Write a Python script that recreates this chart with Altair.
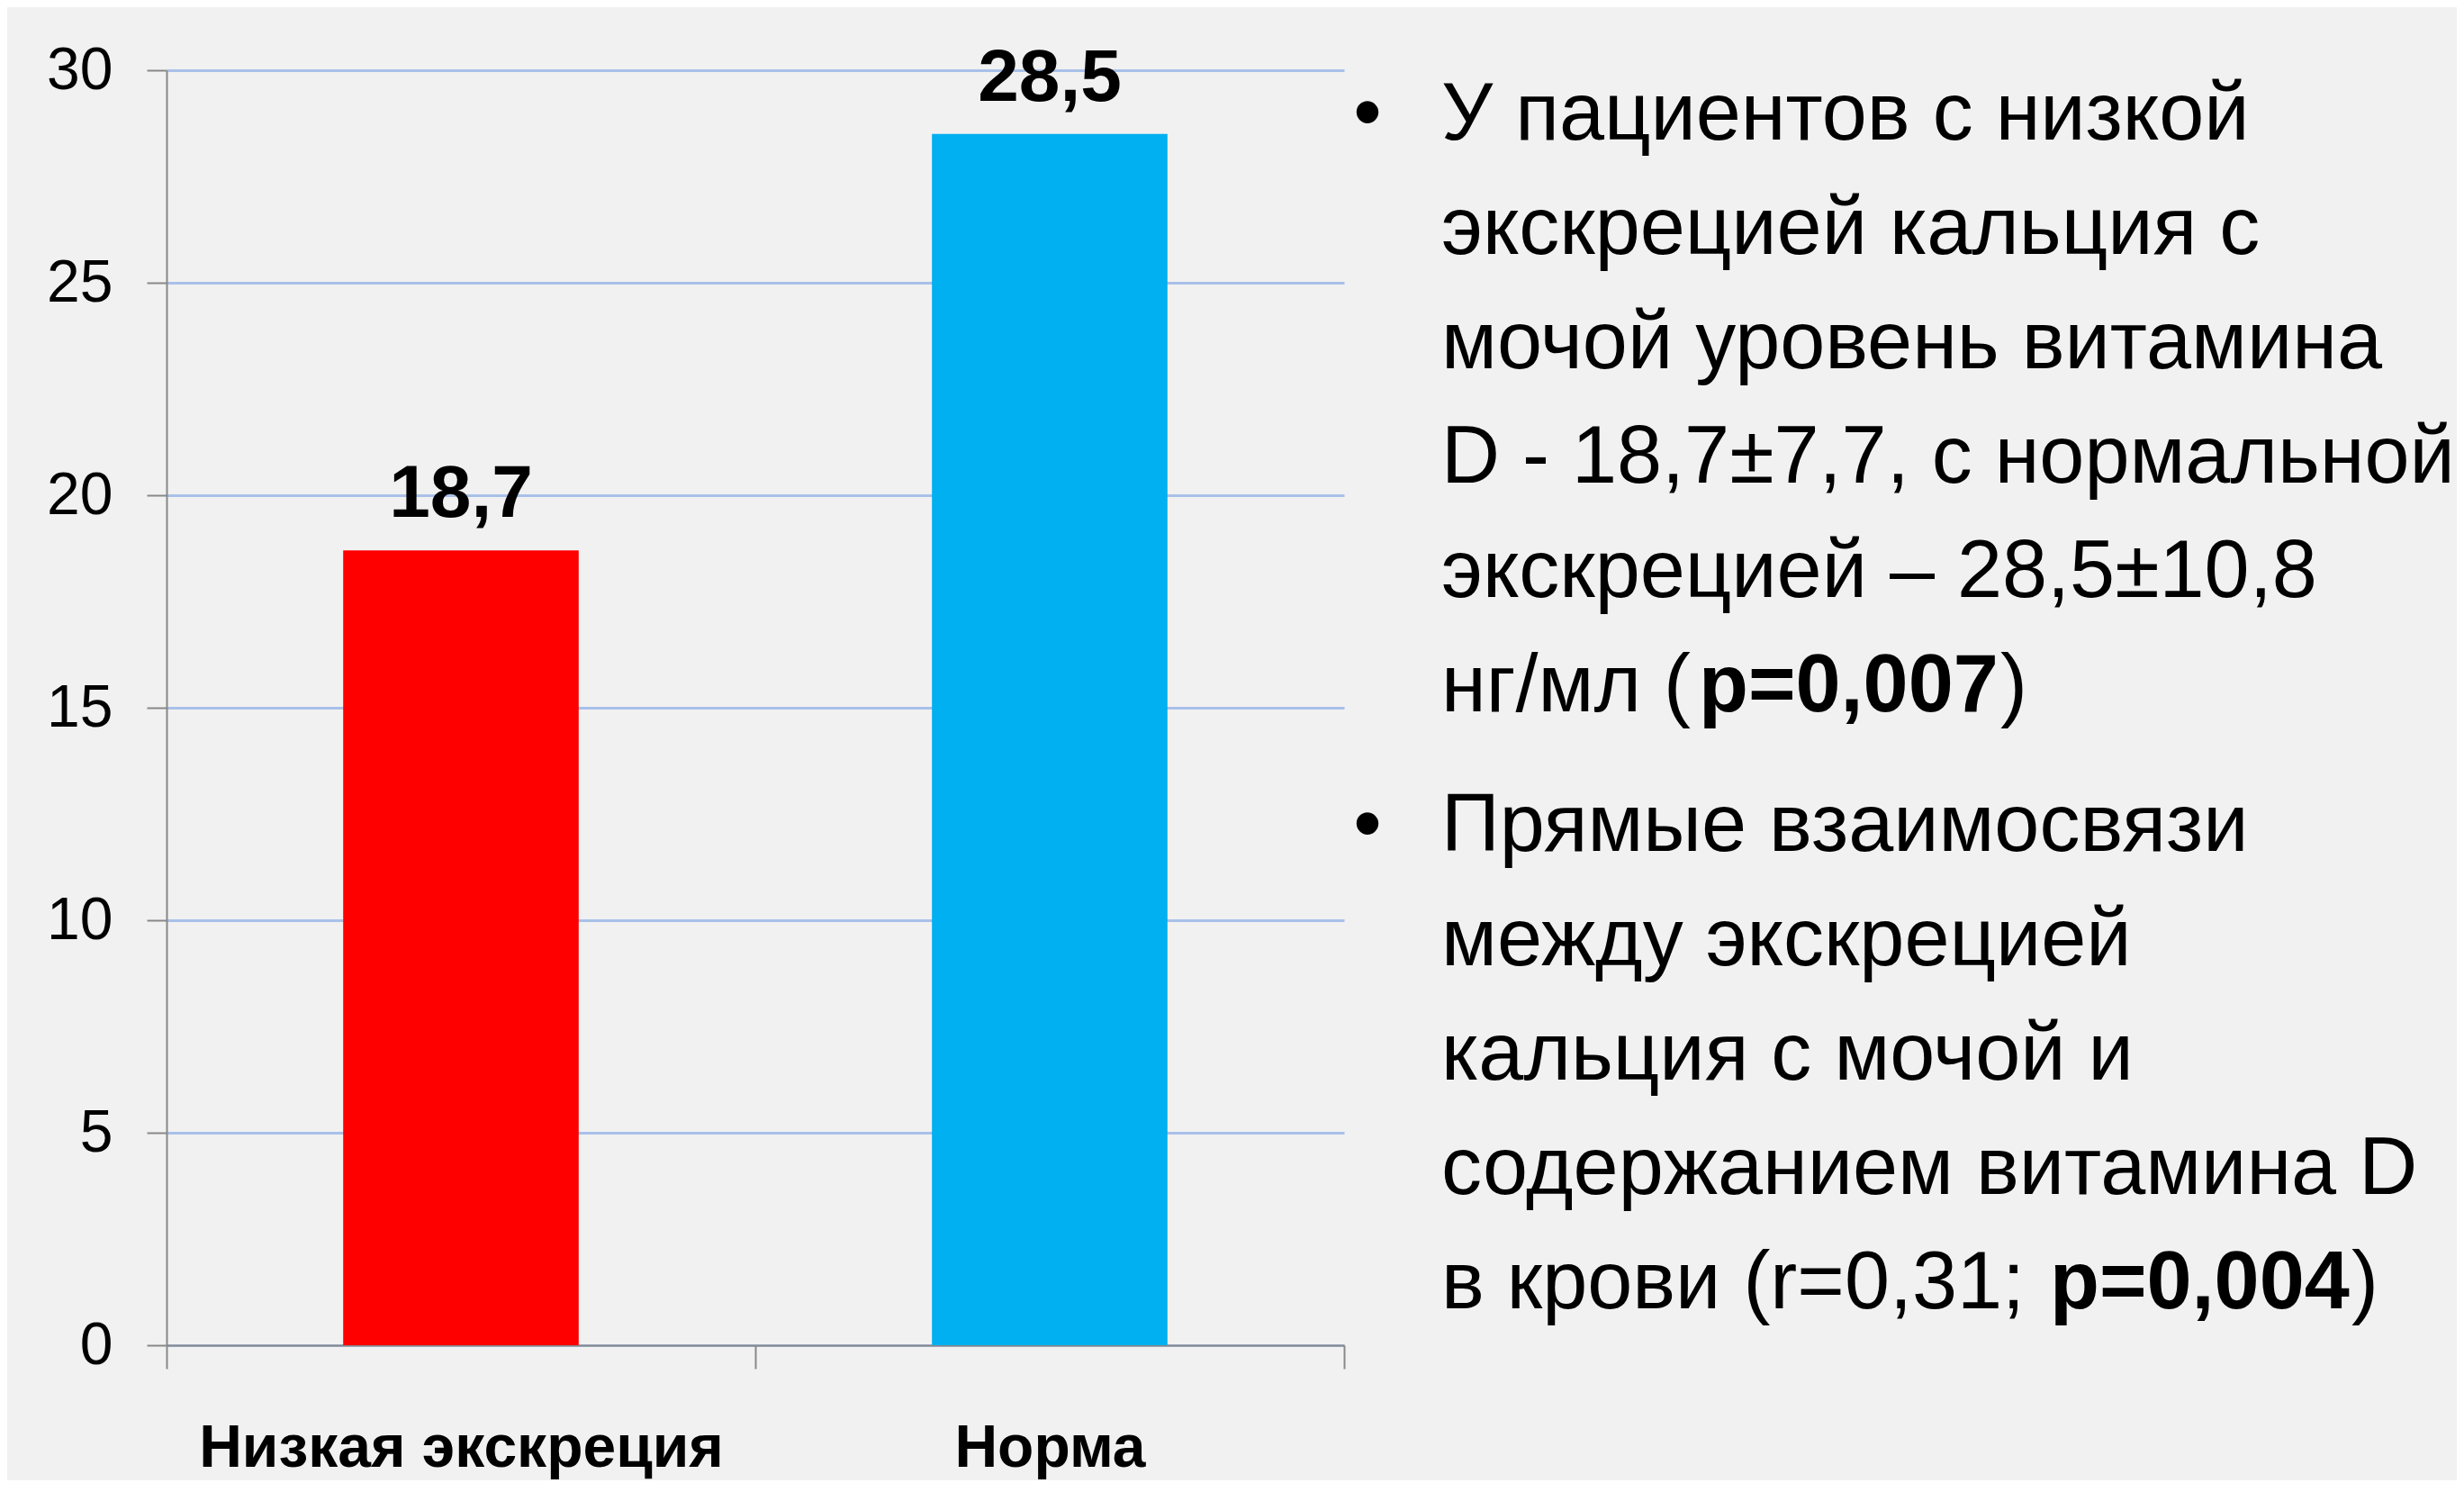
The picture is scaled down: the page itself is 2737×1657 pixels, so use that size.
import altair as alt
import pandas as pd

# ---- data ----
categories = ["Низкая экскреция", "Норма"]
values = [18.7, 28.5]
value_labels = ["18,7", "28,5"]
bar_colors = ["#ff0000", "#00b0f0"]
y_ticks = [0, 5, 10, 15, 20, 25, 30]

bullet1_lines = [
    "У пациентов с низкой",
    "экскрецией кальция с",
    "мочой уровень витамина",
    "D - 18,7±7,7, с нормальной",
    "экскрецией – 28,5±10,8",
    "нг/мл (",
]
bullet1_bold = "p=0,007"
bullet2_lines = [
    "Прямые взаимосвязи",
    "между экскрецией",
    "кальция с мочой и",
    "содержанием витамина D",
    "в крови (r=0,31; ",
]
bullet2_bold = "p=0,004"
closing = ")"
bullet_char = "•"

# ---- layout (pixels, plot coordinates) ----
W, H = 1308, 1416
PAD_L, PAD_T = 177, 70
TEXT_X = 1416
BULLET_X = 1334
B1_Y0 = 77
B2_Y0 = 867
LINE_H = 127
BOLD1_X, CLOSE1_X = 1702, 2037
BOLD2_X, CLOSE2_X = 2092, 2427

FONT = "Liberation Sans, Arial, sans-serif"
BODY_SIZE = 90
GRID = "#a9c1e9"
AXIS = "#888888"

bars = pd.DataFrame({"cat": categories, "val": values, "lab": value_labels})

x_scale = alt.Scale(domain=categories, paddingInner=0, paddingOuter=0)
y_scale = alt.Scale(domain=[0, 30], nice=False)

x_enc = alt.X(
    "cat:N",
    sort=categories,
    scale=x_scale,
    axis=alt.Axis(
        title=None, labelAngle=0, tickBand="extent", grid=False, labelLimit=0,
        labelFont=FONT, labelFontSize=66, labelFontWeight="bold", labelColor="black",
        labelPadding=56, tickSize=26, tickWidth=2, tickColor=AXIS,
        domainColor=AXIS, domainWidth=2,
    ),
)
y_enc = alt.Y(
    "val:Q",
    scale=y_scale,
    axis=alt.Axis(
        title=None, values=y_ticks, grid=True, gridColor=GRID, gridWidth=3,
        labelFont=FONT, labelFontSize=66, labelColor="black", labelPadding=38,
        tickSize=22, tickWidth=2, tickColor=AXIS, domainColor=AXIS, domainWidth=2,
    ),
)

bar_layer = alt.Chart(bars).mark_bar(width=alt.RelativeBandSize(0.4)).encode(
    x=x_enc,
    y=y_enc,
    color=alt.Color("cat:N", scale=alt.Scale(domain=categories, range=bar_colors), legend=None),
)
label_layer = alt.Chart(bars).mark_text(
    font=FONT, fontSize=82, fontWeight="bold", color="black",
    align="center", baseline="alphabetic", dy=-37,
).encode(
    x=alt.X("cat:N", sort=categories, scale=x_scale, axis=None),
    y=alt.Y("val:Q", scale=y_scale, axis=None),
    text="lab:N",
)

# text block rows
reg_rows, bold_rows, bullet_rows = [], [], []
for i, t in enumerate(bullet1_lines):
    reg_rows.append({"t": t, "px": TEXT_X, "py": B1_Y0 + i * LINE_H})
for i, t in enumerate(bullet2_lines):
    reg_rows.append({"t": t, "px": TEXT_X, "py": B2_Y0 + i * LINE_H})
last1 = B1_Y0 + (len(bullet1_lines) - 1) * LINE_H
last2 = B2_Y0 + (len(bullet2_lines) - 1) * LINE_H
reg_rows.append({"t": closing, "px": CLOSE1_X, "py": last1})
reg_rows.append({"t": closing, "px": CLOSE2_X, "py": last2})
bold_rows.append({"t": bullet1_bold, "px": BOLD1_X, "py": last1})
bold_rows.append({"t": bullet2_bold, "px": BOLD2_X, "py": last2})
bullet_rows.append({"t": bullet_char, "px": BULLET_X, "py": B1_Y0})
bullet_rows.append({"t": bullet_char, "px": BULLET_X, "py": B2_Y0})


def text_layer(rows, weight, align="left"):
    return alt.Chart(pd.DataFrame(rows)).mark_text(
        font=FONT, fontSize=BODY_SIZE, fontWeight=weight, color="black",
        align=align, baseline="alphabetic",
    ).encode(
        x=alt.X("px:Q", scale=None, axis=None),
        y=alt.Y("py:Q", scale=None, axis=None),
        text="t:N",
    )


chart = alt.layer(
    bar_layer, label_layer,
    text_layer(reg_rows, "normal"),
    text_layer(bold_rows, "bold"),
    text_layer(bullet_rows, "normal", "center"),
).resolve_scale(x="independent", y="independent").properties(
    width=W, height=H,
    autosize=alt.AutoSizeParams(type="none"),
    padding={"left": PAD_L, "top": PAD_T, "right": 1236, "bottom": 150},
    background="#f1f1f1",
).configure_view(stroke=None)

chart.save("out.html", embed_options={"renderer": "svg", "actions": False})
